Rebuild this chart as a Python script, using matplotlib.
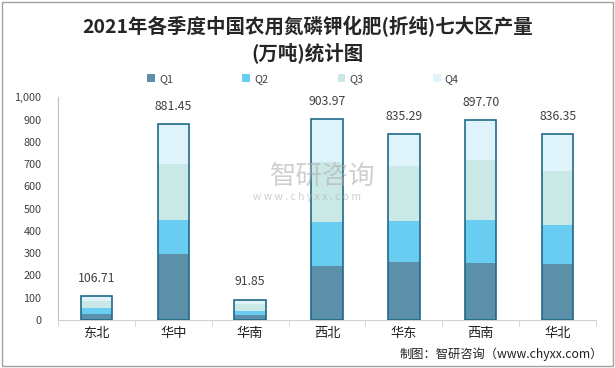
import matplotlib
matplotlib.use("Agg")
import matplotlib.pyplot as plt
from matplotlib.patches import Rectangle
import numpy as np

plt.rcParams['font.family'] = ['Noto Sans CJK SC', 'DejaVu Sans']

regions = ["东北", "华中", "华南", "西北", "华东", "西南", "华北"]
totals = [106.71, 881.45, 91.85, 903.97, 835.29, 897.70, 836.35]
q1 = [27, 296, 22, 243, 260, 256, 251]
q2 = [27, 153, 18, 197, 185, 193, 176]
q3 = [31, 251, 32, 270, 247, 270, 242]
q4 = [round(t - a - b - c, 2) for t, a, b, c in zip(totals, q1, q2, q3)]
series_names = ["Q1", "Q2", "Q3", "Q4"]
colors = ["#5B90A8", "#69CDF2", "#CAE9E6", "#DFF3FA"]
yticks = [0, 100, 200, 300, 400, 500, 600, 700, 800, 900, 1000]
ytick_labels = ["0", "100", "200", "300", "400", "500", "600", "700", "800", "900", "1,000"]

W, H = 615, 368
fig = plt.figure(figsize=(W / 100, H / 100), dpi=100)
ax = fig.add_axes([58 / W, 1 - 320 / H, (596 - 58) / W, (320 - 97.3) / H])

x = np.arange(len(regions))
width = 0.41
bottom = np.zeros(len(regions))
handles = []
for name, vals, col in zip(series_names, [q1, q2, q3, q4], colors):
    b = ax.bar(x, vals, width, bottom=bottom, color=col, edgecolor='none', label=name, zorder=2)
    handles.append(b)
    bottom += np.array(vals)
ax.bar(x, totals, width, fill=False, edgecolor="#1F6A8A", linewidth=1.2, zorder=3)

for xi, t in zip(x, totals):
    ax.annotate(f"{t:.2f}", (xi, t), xytext=(0, 8), textcoords='offset points',
                ha='center', va='bottom', fontsize=8.8, color='#404040')

ax.set_xlim(-0.5, len(regions) - 0.5)
ax.set_ylim(0, 1000)
ax.set_yticks(yticks)
ax.set_yticklabels(ytick_labels, fontsize=7.8, color='#404040')
ax.set_xticks(x)
ax.set_xticklabels(regions, fontsize=9.5, color='#202020')
ax.tick_params(axis='y', length=0, pad=12)
ax.tick_params(axis='x', length=0, pad=5)
ax.set_xticks(np.arange(-0.5, len(regions), 1), minor=True)
ax.tick_params(axis='x', which='minor', length=4, color='#D0D0D0', direction='out')
for s in ['top', 'right']:
    ax.spines[s].set_visible(False)
ax.spines['left'].set_color('#BFBFBF')
ax.spines['bottom'].set_color('#D0D0D0')

fig.text(0.5, 1 - 27 / H, "2021年各季度中国农用氮磷钾化肥(折纯)七大区产量", ha='center', va='center',
         fontsize=14, fontweight='bold', color='#262626')
fig.text(0.5, 1 - 53 / H, "(万吨)统计图", ha='center', va='center',
         fontsize=14, fontweight='bold', color='#262626')

leg = fig.legend(handles=handles, labels=series_names, loc='center', bbox_to_anchor=(303 / W, 1 - 79 / H),
                 ncol=4, frameon=False, fontsize=7.8, handlelength=0.7, handleheight=0.7,
                 columnspacing=6.4, handletextpad=0.4)
for t in leg.get_texts():
    t.set_color('#404040')

# watermark
fig.text(323 / W, 1 - 176 / H, "智研咨询", ha='center', va='center', fontsize=19, color='#B0B0B0', alpha=0.6)
fig.text(307 / W, 1 - 197 / H, "w w w . c h y x x . c o m", ha='center', va='center', fontsize=7.5, color='#B0B0B0', alpha=0.6)

fig.text(603 / W, 1 - 354 / H, "制图：智研咨询（www.chyxx.com）", ha='right', va='center', fontsize=8.8, color='#202020')

fig.patches.append(Rectangle((2 / W, 2 / H), 1 - 4 / W, 1 - 4 / H, transform=fig.transFigure,
                             fill=False, edgecolor='#A0A0A0', linewidth=1))

fig.savefig("out.png", dpi=100)
